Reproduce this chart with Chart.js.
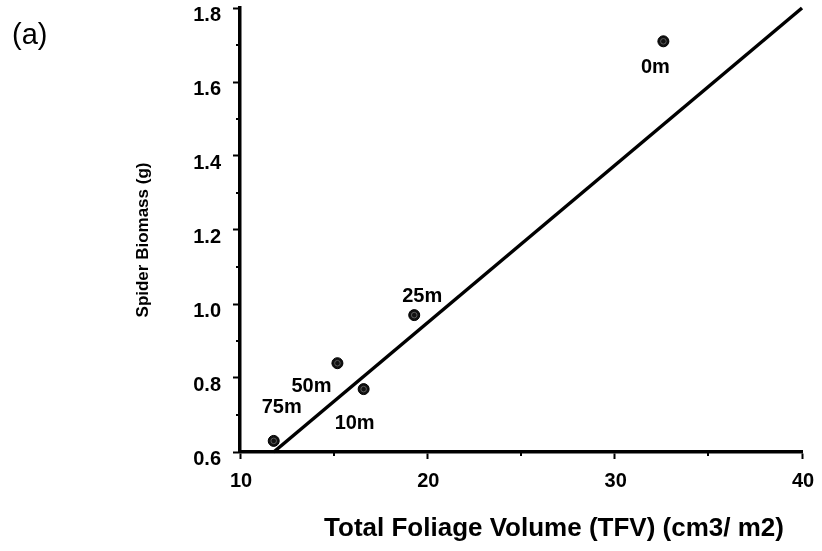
<!DOCTYPE html>
<html>
<head>
<meta charset="utf-8">
<script src="https://cdn.jsdelivr.net/npm/chart.js@4.4.1/dist/chart.umd.min.js"></script>
<style>
  html, body { margin: 0; padding: 0; background: #fff; }
  #wrap { width: 822px; height: 551px; }
</style>
</head>
<body>
<div id="wrap"><canvas id="biomassChart" width="822" height="551"></canvas></div>
<script>
// Spider biomass vs total foliage volume, one point per distance
const sites = ['0m', '10m', '25m', '50m', '75m'];
const tfv = [32.6, 16.6, 19.3, 15.2, 11.8];
const biomass = [1.71, 0.77, 0.97, 0.84, 0.63];

// fitted line, drawn between its two end points
const fitX = [11.8, 40];
const fitY = [0.6, 1.8];

const yTicks = [0.6, 0.8, 1.0, 1.2, 1.4, 1.6, 1.8];
const xTicks = [10, 20, 30, 40];

const FONT = "'Liberation Sans', Arial, sans-serif";

// where each site label sits relative to its point (px)
const labelOffsets = {
    '0m': [-8, 26],
    '10m': [-9, 34],
    '25m': [8, -19],
    '50m': [-26, 23],
    '75m': [8, -33]
};

const extrasPlugin = {
    id: 'extras',
    afterDraw(chart) {
        const ctx = chart.ctx;
        const xs = chart.scales.x;
        const ys = chart.scales.y;
        ctx.save();

        // short minor ticks
        ctx.strokeStyle = '#000';
        ctx.lineWidth = 2;
        ys.ticks.forEach(t => {
            if (Math.round(t.value * 10) % 2 !== 0) {
                const py = Math.round(ys.getPixelForValue(t.value));
                ctx.beginPath();
                ctx.moveTo(xs.left - 4, py);
                ctx.lineTo(xs.left, py);
                ctx.stroke();
            }
        });
        xs.ticks.forEach(t => {
            if (t.value % 10 !== 0) {
                const px = Math.round(xs.getPixelForValue(t.value));
                ctx.beginPath();
                ctx.moveTo(px, ys.bottom);
                ctx.lineTo(px, ys.bottom + 4);
                ctx.stroke();
            }
        });

        // inner ring on each marker
        const meta = chart.getDatasetMeta(1);
        meta.data.forEach(pt => {
            ctx.beginPath();
            ctx.arc(pt.x, pt.y, 2.8, 0, Math.PI * 2);
            ctx.strokeStyle = '#6a6a6a';
            ctx.lineWidth = 0.8;
            ctx.stroke();
        });

        // site labels
        ctx.fillStyle = '#000';
        ctx.font = 'bold 20px ' + FONT;
        ctx.textAlign = 'center';
        ctx.textBaseline = 'middle';
        meta.data.forEach((pt, i) => {
            const off = labelOffsets[sites[i]];
            ctx.fillText(sites[i], pt.x + off[0], pt.y + off[1]);
        });

        // axis titles
        ctx.font = 'bold 26px ' + FONT;
        ctx.fillText('Total Foliage Volume (TFV) (cm3/ m2)', 554, 529);

        ctx.save();
        ctx.translate(143, 240);
        ctx.rotate(-Math.PI / 2);
        ctx.font = 'bold 17px ' + FONT;
        ctx.fillText('Spider Biomass (g)', 0, 0);
        ctx.restore();

        // panel tag
        ctx.font = '29px ' + FONT;
        ctx.textAlign = 'left';
        ctx.fillText('(a)', 12, 36);

        ctx.restore();
    }
};

const ctx = document.getElementById('biomassChart').getContext('2d');
new Chart(ctx, {
    type: 'scatter',
    data: {
        datasets: [
            {
                type: 'line',
                data: fitX.map((x, i) => ({x: x, y: fitY[i]})),
                borderColor: '#000',
                borderWidth: 3.5,
                pointRadius: 0,
                fill: false,
                clip: false,
                order: 2
            },
            {
                data: tfv.map((x, i) => ({x: x, y: biomass[i]})),
                backgroundColor: '#111',
                borderColor: '#000',
                borderWidth: 1,
                pointRadius: 5.5,
                pointHoverRadius: 5.5,
                order: 1
            }
        ]
    },
    plugins: [extrasPlugin],
    options: {
        responsive: false,
        animation: false,
        events: [],
        layout: { padding: { left: 0, top: 8, right: 20, bottom: 0 } },
        plugins: {
            legend: { display: false },
            tooltip: { enabled: false }
        },
        scales: {
            x: {
                type: 'linear',
                min: 10,
                max: 40,
                afterFit(scale) {
                    scale.height = 99;
                    scale.paddingLeft = 0;
                    scale.paddingRight = 0;
                },
                border: { display: true, color: '#000', width: 3.5 },
                grid: {
                    drawOnChartArea: false,
                    tickLength: 7,
                    tickWidth: 2,
                    tickColor: c => (c.tick && c.tick.value % 10 === 0) ? '#000' : 'rgba(0,0,0,0)'
                },
                ticks: {
                    stepSize: 5,
                    padding: 10,
                    labelOffset: 1,
                    color: '#000',
                    font: { family: FONT, size: 20, weight: 'bold' },
                    callback: v => xTicks.includes(v) ? String(v) : ''
                }
            },
            y: {
                type: 'linear',
                min: 0.6,
                max: 1.8,
                afterFit(scale) {
                    scale.width = 240;
                    scale.paddingTop = 0;
                    scale.paddingBottom = 0;
                },
                border: { display: true, color: '#000', width: 3.5 },
                grid: {
                    drawOnChartArea: false,
                    tickLength: 7,
                    tickWidth: 2,
                    tickColor: c => (c.tick && Math.round(c.tick.value * 10) % 2 === 0) ? '#000' : 'rgba(0,0,0,0)'
                },
                ticks: {
                    stepSize: 0.1,
                    padding: 12,
                    labelOffset: 7,
                    color: '#000',
                    font: { family: FONT, size: 20, weight: 'bold' },
                    callback: v => {
                        const hit = yTicks.find(t => Math.abs(t - v) < 1e-6);
                        return hit !== undefined ? hit.toFixed(1) : '';
                    }
                }
            }
        }
    }
});
</script>
</body>
</html>
